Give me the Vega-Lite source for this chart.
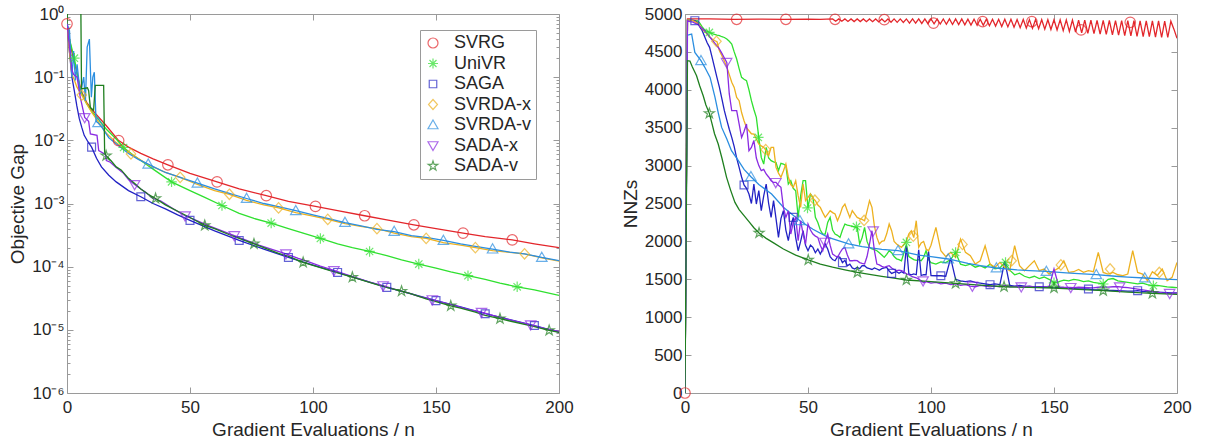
{
 "$schema": "https://vega.github.io/schema/vega-lite/v6.json",
 "padding": {"left": 8, "top": 5, "right": 0, "bottom": 0},
 "background": "white",
 "bounds": "flush",
 "spacing": 126,
 "config": {
  "font": "Liberation Sans",
  "view": {"stroke": null},
  "axis": {"grid": false, "labelFlush": false, "domainColor": "#9a9a9a", "tickColor": "#9a9a9a", "domainWidth": 1, "tickWidth": 1,
   "labelFont": "Liberation Sans", "labelFontSize": 17, "labelColor": "#262626",
   "titleFont": "Liberation Sans", "titleFontSize": 19, "titleFontWeight": "normal", "titleColor": "#262626", "labelPadding": 6}
 },
 "resolve": {"scale": {"x": "independent", "y": "independent", "color": "independent", "stroke": "independent", "shape": "independent"}, "legend": {"color": "independent", "shape": "independent"}},
 "datasets": {
  "left": [
   {"s":"SVRG","x":0,"y":0.7},{"s":"SVRG","x":1,"y":0.4},{"s":"SVRG","x":2,"y":0.25},{"s":"SVRG","x":3,"y":0.17},{"s":"SVRG","x":4,"y":0.12},{"s":"SVRG","x":5,"y":0.08},{"s":"SVRG","x":6,"y":0.058},{"s":"SVRG","x":8,"y":0.04},{"s":"SVRG","x":10,"y":0.031},{"s":"SVRG","x":13,"y":0.023},{"s":"SVRG","x":16,"y":0.017},{"s":"SVRG","x":21,"y":0.0099},{"s":"SVRG","x":25,"y":0.0078},{"s":"SVRG","x":30,"y":0.0062},{"s":"SVRG","x":35,"y":0.0051},{"s":"SVRG","x":41,"y":0.0041},{"s":"SVRG","x":50,"y":0.003},{"s":"SVRG","x":61,"y":0.0022},{"s":"SVRG","x":70,"y":0.0017},{"s":"SVRG","x":81,"y":0.00133},{"s":"SVRG","x":90,"y":0.00108},{"s":"SVRG","x":101,"y":0.0009},{"s":"SVRG","x":110,"y":0.00077},{"s":"SVRG","x":121,"y":0.00064},{"s":"SVRG","x":130,"y":0.00055},{"s":"SVRG","x":141,"y":0.00046},{"s":"SVRG","x":150,"y":0.0004},{"s":"SVRG","x":161,"y":0.00034},{"s":"SVRG","x":170,"y":0.0003},{"s":"SVRG","x":181,"y":0.000265},{"s":"SVRG","x":190,"y":0.00023},{"s":"SVRG","x":200,"y":0.0002},
   {"s":"UniVR","x":0,"y":0.7},{"s":"UniVR","x":1,"y":0.4},{"s":"UniVR","x":2,"y":0.28},{"s":"UniVR","x":3,"y":0.2},{"s":"UniVR","x":4,"y":0.12},{"s":"UniVR","x":5,"y":0.075},{"s":"UniVR","x":6,"y":0.055},{"s":"UniVR","x":8,"y":0.038},{"s":"UniVR","x":10,"y":0.029},{"s":"UniVR","x":13,"y":0.021},{"s":"UniVR","x":16,"y":0.015},{"s":"UniVR","x":20,"y":0.0105},{"s":"UniVR","x":23,"y":0.0077},{"s":"UniVR","x":27,"y":0.0058},{"s":"UniVR","x":30,"y":0.0048},{"s":"UniVR","x":35,"y":0.0035},{"s":"UniVR","x":42.5,"y":0.0022},{"s":"UniVR","x":50,"y":0.0016},{"s":"UniVR","x":56,"y":0.00125},{"s":"UniVR","x":63,"y":0.00093},{"s":"UniVR","x":70,"y":0.0007},{"s":"UniVR","x":76,"y":0.00058},{"s":"UniVR","x":83,"y":0.00049},{"s":"UniVR","x":90,"y":0.0004},{"s":"UniVR","x":96,"y":0.00034},{"s":"UniVR","x":103,"y":0.00028},{"s":"UniVR","x":110,"y":0.00023},{"s":"UniVR","x":116,"y":0.0002},{"s":"UniVR","x":123,"y":0.000174},{"s":"UniVR","x":130,"y":0.00015},{"s":"UniVR","x":136,"y":0.000128},{"s":"UniVR","x":143,"y":0.00011},{"s":"UniVR","x":150,"y":0.000095},{"s":"UniVR","x":156,"y":0.000083},{"s":"UniVR","x":163,"y":0.000072},{"s":"UniVR","x":170,"y":0.000063},{"s":"UniVR","x":176,"y":0.000055},{"s":"UniVR","x":183,"y":0.000048},{"s":"UniVR","x":190,"y":0.000043},{"s":"UniVR","x":200,"y":0.000035},
   {"s":"SAGA","x":0,"y":0.7},{"s":"SAGA","x":1,"y":0.25},{"s":"SAGA","x":2,"y":0.1},{"s":"SAGA","x":3,"y":0.06},{"s":"SAGA","x":4,"y":0.035},{"s":"SAGA","x":5,"y":0.022},{"s":"SAGA","x":6,"y":0.016},{"s":"SAGA","x":7,"y":0.012},{"s":"SAGA","x":8.5,"y":0.0095},{"s":"SAGA","x":10,"y":0.0078},{"s":"SAGA","x":12,"y":0.0052},{"s":"SAGA","x":14,"y":0.0038},{"s":"SAGA","x":17,"y":0.0028},{"s":"SAGA","x":20,"y":0.0022},{"s":"SAGA","x":25,"y":0.0016},{"s":"SAGA","x":30,"y":0.00128},{"s":"SAGA","x":35,"y":0.001},{"s":"SAGA","x":40,"y":0.00082},{"s":"SAGA","x":45,"y":0.00066},{"s":"SAGA","x":50,"y":0.00054},{"s":"SAGA","x":60,"y":0.00037},{"s":"SAGA","x":70,"y":0.00026},{"s":"SAGA","x":80,"y":0.00019},{"s":"SAGA","x":90,"y":0.00014},{"s":"SAGA","x":100,"y":0.000106},{"s":"SAGA","x":110,"y":0.000081},{"s":"SAGA","x":120,"y":0.000062},{"s":"SAGA","x":130,"y":0.000047},{"s":"SAGA","x":140,"y":0.000037},{"s":"SAGA","x":150,"y":0.000029},{"s":"SAGA","x":160,"y":0.000023},{"s":"SAGA","x":170,"y":0.000018},{"s":"SAGA","x":180,"y":0.0000145},{"s":"SAGA","x":190,"y":0.0000117},{"s":"SAGA","x":200,"y":0.0000092},
   {"s":"SVRDA-x","x":0,"y":0.7},{"s":"SVRDA-x","x":1,"y":0.25},{"s":"SVRDA-x","x":2,"y":0.11},{"s":"SVRDA-x","x":3,"y":0.09},{"s":"SVRDA-x","x":4,"y":0.07},{"s":"SVRDA-x","x":6,"y":0.052},{"s":"SVRDA-x","x":8,"y":0.038},{"s":"SVRDA-x","x":10,"y":0.028},{"s":"SVRDA-x","x":13,"y":0.019},{"s":"SVRDA-x","x":16,"y":0.013},{"s":"SVRDA-x","x":20,"y":0.0092},{"s":"SVRDA-x","x":26,"y":0.0061},{"s":"SVRDA-x","x":33,"y":0.0041},{"s":"SVRDA-x","x":40,"y":0.0031},{"s":"SVRDA-x","x":46,"y":0.0026},{"s":"SVRDA-x","x":53,"y":0.002},{"s":"SVRDA-x","x":60,"y":0.0016},{"s":"SVRDA-x","x":66,"y":0.0014},{"s":"SVRDA-x","x":73,"y":0.00112},{"s":"SVRDA-x","x":80,"y":0.00095},{"s":"SVRDA-x","x":86,"y":0.00085},{"s":"SVRDA-x","x":93,"y":0.00072},{"s":"SVRDA-x","x":100,"y":0.00063},{"s":"SVRDA-x","x":106,"y":0.00056},{"s":"SVRDA-x","x":113,"y":0.00048},{"s":"SVRDA-x","x":120,"y":0.00043},{"s":"SVRDA-x","x":126,"y":0.0004},{"s":"SVRDA-x","x":133,"y":0.00034},{"s":"SVRDA-x","x":140,"y":0.0003},{"s":"SVRDA-x","x":146,"y":0.00028},{"s":"SVRDA-x","x":153,"y":0.00024},{"s":"SVRDA-x","x":160,"y":0.00022},{"s":"SVRDA-x","x":166,"y":0.0002},{"s":"SVRDA-x","x":173,"y":0.00018},{"s":"SVRDA-x","x":180,"y":0.000168},{"s":"SVRDA-x","x":186,"y":0.00016},{"s":"SVRDA-x","x":193,"y":0.000138},{"s":"SVRDA-x","x":200,"y":0.000122},
   {"s":"SVRDA-v","x":0,"y":0.7},{"s":"SVRDA-v","x":1,"y":0.55},{"s":"SVRDA-v","x":2,"y":0.1},{"s":"SVRDA-v","x":2.7,"y":0.26},{"s":"SVRDA-v","x":3.4,"y":0.089},{"s":"SVRDA-v","x":4.1,"y":0.16},{"s":"SVRDA-v","x":5.4,"y":0.054},{"s":"SVRDA-v","x":6.8,"y":0.1},{"s":"SVRDA-v","x":7.5,"y":0.042},{"s":"SVRDA-v","x":8.2,"y":0.3},{"s":"SVRDA-v","x":9.1,"y":0.4},{"s":"SVRDA-v","x":9.9,"y":0.048},{"s":"SVRDA-v","x":10.5,"y":0.1},{"s":"SVRDA-v","x":11.1,"y":0.12},{"s":"SVRDA-v","x":11.8,"y":0.02},{"s":"SVRDA-v","x":12.6,"y":0.019},{"s":"SVRDA-v","x":14.2,"y":0.016},{"s":"SVRDA-v","x":17,"y":0.011},{"s":"SVRDA-v","x":20,"y":0.0088},{"s":"SVRDA-v","x":25,"y":0.0062},{"s":"SVRDA-v","x":29,"y":0.005},{"s":"SVRDA-v","x":33,"y":0.0042},{"s":"SVRDA-v","x":40,"y":0.0031},{"s":"SVRDA-v","x":46,"y":0.0026},{"s":"SVRDA-v","x":53,"y":0.0021},{"s":"SVRDA-v","x":60,"y":0.0017},{"s":"SVRDA-v","x":66,"y":0.00145},{"s":"SVRDA-v","x":73,"y":0.0012},{"s":"SVRDA-v","x":80,"y":0.001},{"s":"SVRDA-v","x":86,"y":0.00089},{"s":"SVRDA-v","x":93,"y":0.00077},{"s":"SVRDA-v","x":100,"y":0.00066},{"s":"SVRDA-v","x":106,"y":0.00058},{"s":"SVRDA-v","x":113,"y":0.0005},{"s":"SVRDA-v","x":120,"y":0.00044},{"s":"SVRDA-v","x":126,"y":0.00039},{"s":"SVRDA-v","x":133,"y":0.00036},{"s":"SVRDA-v","x":140,"y":0.00031},{"s":"SVRDA-v","x":146,"y":0.00029},{"s":"SVRDA-v","x":153,"y":0.00026},{"s":"SVRDA-v","x":160,"y":0.00023},{"s":"SVRDA-v","x":166,"y":0.00021},{"s":"SVRDA-v","x":173,"y":0.00019},{"s":"SVRDA-v","x":180,"y":0.00017},{"s":"SVRDA-v","x":186,"y":0.00016},{"s":"SVRDA-v","x":193,"y":0.00014},{"s":"SVRDA-v","x":200,"y":0.000125},
   {"s":"SADA-x","x":0,"y":0.7},{"s":"SADA-x","x":1,"y":0.3},{"s":"SADA-x","x":2,"y":0.13},{"s":"SADA-x","x":2.7,"y":0.11},{"s":"SADA-x","x":4.1,"y":0.1},{"s":"SADA-x","x":5.4,"y":0.048},{"s":"SADA-x","x":7.2,"y":0.023},{"s":"SADA-x","x":8.8,"y":0.02},{"s":"SADA-x","x":9.5,"y":0.0126},{"s":"SADA-x","x":12.2,"y":0.012},{"s":"SADA-x","x":12.9,"y":0.0069},{"s":"SADA-x","x":15.6,"y":0.006},{"s":"SADA-x","x":16,"y":0.0048},{"s":"SADA-x","x":17.6,"y":0.0045},{"s":"SADA-x","x":20,"y":0.0037},{"s":"SADA-x","x":23,"y":0.003},{"s":"SADA-x","x":25,"y":0.0024},{"s":"SADA-x","x":27.5,"y":0.002},{"s":"SADA-x","x":30,"y":0.0017},{"s":"SADA-x","x":32,"y":0.0015},{"s":"SADA-x","x":35,"y":0.0012},{"s":"SADA-x","x":38,"y":0.0011},{"s":"SADA-x","x":43,"y":0.00083},{"s":"SADA-x","x":48,"y":0.00064},{"s":"SADA-x","x":53,"y":0.00053},{"s":"SADA-x","x":58,"y":0.00044},{"s":"SADA-x","x":63,"y":0.00037},{"s":"SADA-x","x":68,"y":0.00031},{"s":"SADA-x","x":73,"y":0.00026},{"s":"SADA-x","x":78,"y":0.00022},{"s":"SADA-x","x":83,"y":0.00019},{"s":"SADA-x","x":89,"y":0.00016},{"s":"SADA-x","x":94,"y":0.000135},{"s":"SADA-x","x":98,"y":0.00012},{"s":"SADA-x","x":103,"y":0.000102},{"s":"SADA-x","x":108.5,"y":0.000087},{"s":"SADA-x","x":113,"y":0.000076},{"s":"SADA-x","x":118,"y":0.000066},{"s":"SADA-x","x":123,"y":0.000057},{"s":"SADA-x","x":128.5,"y":0.00005},{"s":"SADA-x","x":133,"y":0.000044},{"s":"SADA-x","x":138,"y":0.000039},{"s":"SADA-x","x":143,"y":0.000034},{"s":"SADA-x","x":148.5,"y":0.00003},{"s":"SADA-x","x":153,"y":0.000027},{"s":"SADA-x","x":158,"y":0.000024},{"s":"SADA-x","x":163,"y":0.000021},{"s":"SADA-x","x":168.5,"y":0.000019},{"s":"SADA-x","x":173,"y":0.000017},{"s":"SADA-x","x":178,"y":0.000015},{"s":"SADA-x","x":183,"y":0.0000135},{"s":"SADA-x","x":188.5,"y":0.000012},{"s":"SADA-x","x":194,"y":0.0000105},{"s":"SADA-x","x":200,"y":0.0000094},
   {"s":"SADA-v","x":0,"y":0.7},{"s":"SADA-v","x":1,"y":5},{"s":"SADA-v","x":5.5,"y":5},{"s":"SADA-v","x":5.9,"y":0.065},{"s":"SADA-v","x":8.3,"y":0.068},{"s":"SADA-v","x":8.8,"y":0.061},{"s":"SADA-v","x":9.5,"y":0.033},{"s":"SADA-v","x":10.8,"y":0.03},{"s":"SADA-v","x":11.5,"y":0.074},{"s":"SADA-v","x":14.9,"y":0.074},{"s":"SADA-v","x":15.3,"y":0.0065},{"s":"SADA-v","x":15.9,"y":0.0057},{"s":"SADA-v","x":18,"y":0.0047},{"s":"SADA-v","x":20,"y":0.0038},{"s":"SADA-v","x":22,"y":0.0034},{"s":"SADA-v","x":25,"y":0.0025},{"s":"SADA-v","x":28,"y":0.002},{"s":"SADA-v","x":30,"y":0.0017},{"s":"SADA-v","x":33,"y":0.0014},{"s":"SADA-v","x":36,"y":0.0012},{"s":"SADA-v","x":40,"y":0.00095},{"s":"SADA-v","x":46,"y":0.00072},{"s":"SADA-v","x":50,"y":0.0006},{"s":"SADA-v","x":56,"y":0.00045},{"s":"SADA-v","x":60,"y":0.0004},{"s":"SADA-v","x":66,"y":0.00032},{"s":"SADA-v","x":70,"y":0.00028},{"s":"SADA-v","x":76,"y":0.00023},{"s":"SADA-v","x":80,"y":0.0002},{"s":"SADA-v","x":86,"y":0.000163},{"s":"SADA-v","x":90,"y":0.000145},{"s":"SADA-v","x":96,"y":0.000117},{"s":"SADA-v","x":100,"y":0.000105},{"s":"SADA-v","x":106,"y":0.000089},{"s":"SADA-v","x":110,"y":0.00008},{"s":"SADA-v","x":116,"y":0.000068},{"s":"SADA-v","x":120,"y":0.000061},{"s":"SADA-v","x":126,"y":0.000052},{"s":"SADA-v","x":130,"y":0.000047},{"s":"SADA-v","x":136,"y":0.000041},{"s":"SADA-v","x":140,"y":0.000037},{"s":"SADA-v","x":146,"y":0.000031},{"s":"SADA-v","x":150,"y":0.000028},{"s":"SADA-v","x":156,"y":0.000024},{"s":"SADA-v","x":160,"y":0.000022},{"s":"SADA-v","x":166,"y":0.000019},{"s":"SADA-v","x":170,"y":0.000017},{"s":"SADA-v","x":176,"y":0.000015},{"s":"SADA-v","x":180,"y":0.0000138},{"s":"SADA-v","x":186,"y":0.0000122},{"s":"SADA-v","x":190,"y":0.0000112},{"s":"SADA-v","x":196,"y":0.0000098},{"s":"SADA-v","x":200,"y":0.0000091}
  ],
  "leftm": [
   {"s":"SVRG","x":0,"y":0.7},{"s":"SVRG","x":21,"y":0.0099},{"s":"SVRG","x":41,"y":0.0041},{"s":"SVRG","x":61,"y":0.0022},{"s":"SVRG","x":81,"y":0.00133},{"s":"SVRG","x":101,"y":0.0009},{"s":"SVRG","x":121,"y":0.00064},{"s":"SVRG","x":141,"y":0.00046},{"s":"SVRG","x":161,"y":0.00034},{"s":"SVRG","x":181,"y":0.000265},
   {"s":"UniVR","x":3,"y":0.2},{"s":"UniVR","x":23,"y":0.0077},{"s":"UniVR","x":42.5,"y":0.0022},{"s":"UniVR","x":63,"y":0.00093},{"s":"UniVR","x":83,"y":0.00049},{"s":"UniVR","x":103,"y":0.00028},{"s":"UniVR","x":123,"y":0.000174},{"s":"UniVR","x":143,"y":0.00011},{"s":"UniVR","x":163,"y":0.000072},{"s":"UniVR","x":183,"y":0.000048},
   {"s":"SAGA","x":10,"y":0.0078},{"s":"SAGA","x":30,"y":0.00128},{"s":"SAGA","x":50,"y":0.00054},{"s":"SAGA","x":70,"y":0.00026},{"s":"SAGA","x":90,"y":0.00014},{"s":"SAGA","x":110,"y":0.000081},{"s":"SAGA","x":130,"y":0.000047},{"s":"SAGA","x":150,"y":0.000029},{"s":"SAGA","x":170,"y":0.000018},{"s":"SAGA","x":190,"y":0.0000117},
   {"s":"SVRDA-x","x":6,"y":0.052},{"s":"SVRDA-x","x":26,"y":0.0061},{"s":"SVRDA-x","x":46,"y":0.0026},{"s":"SVRDA-x","x":66,"y":0.0014},{"s":"SVRDA-x","x":86,"y":0.00085},{"s":"SVRDA-x","x":106,"y":0.00056},{"s":"SVRDA-x","x":126,"y":0.0004},{"s":"SVRDA-x","x":146,"y":0.00028},{"s":"SVRDA-x","x":166,"y":0.0002},{"s":"SVRDA-x","x":186,"y":0.00016},
   {"s":"SVRDA-v","x":12.6,"y":0.019},{"s":"SVRDA-v","x":33,"y":0.0042},{"s":"SVRDA-v","x":53,"y":0.0021},{"s":"SVRDA-v","x":73,"y":0.0012},{"s":"SVRDA-v","x":93,"y":0.00077},{"s":"SVRDA-v","x":113,"y":0.0005},{"s":"SVRDA-v","x":133,"y":0.00036},{"s":"SVRDA-v","x":153,"y":0.00026},{"s":"SVRDA-v","x":173,"y":0.00019},{"s":"SVRDA-v","x":193,"y":0.00014},
   {"s":"SADA-x","x":7.2,"y":0.023},{"s":"SADA-x","x":27.5,"y":0.002},{"s":"SADA-x","x":48,"y":0.00064},{"s":"SADA-x","x":68,"y":0.00031},{"s":"SADA-x","x":89,"y":0.00016},{"s":"SADA-x","x":108.5,"y":0.000087},{"s":"SADA-x","x":128.5,"y":0.00005},{"s":"SADA-x","x":148.5,"y":0.00003},{"s":"SADA-x","x":168.5,"y":0.000019},{"s":"SADA-x","x":188.5,"y":0.000012},
   {"s":"SADA-v","x":15.9,"y":0.0057},{"s":"SADA-v","x":36,"y":0.0012},{"s":"SADA-v","x":56,"y":0.00045},{"s":"SADA-v","x":76,"y":0.00023},{"s":"SADA-v","x":96,"y":0.000117},{"s":"SADA-v","x":116,"y":0.000068},{"s":"SADA-v","x":136,"y":0.000041},{"s":"SADA-v","x":156,"y":0.000024},{"s":"SADA-v","x":176,"y":0.000015},{"s":"SADA-v","x":196,"y":0.0000098}
  ],
  "right": [
   {"x":0,"SVRG":0,"UniVR":0,"SAGA":0,"SVRDA-x":0,"SVRDA-v":0,"SADA-x":0,"SADA-v":0},
   {"x":1,"UniVR":4920,"SAGA":4920,"SVRDA-x":4920,"SADA-x":4911},
   {"x":2,"UniVR":4920,"SAGA":4920,"SVRDA-x":4920,"SADA-x":4900},
   {"x":3,"UniVR":4915,"SAGA":4920,"SVRDA-x":4915,"SADA-x":4895},
   {"x":4,"UniVR":4910,"SAGA":4912,"SVRDA-x":4900,"SADA-x":4880},
   {"x":5,"UniVR":4911,"SAGA":4889,"SVRDA-x":4880,"SADA-x":4868},
   {"x":6,"UniVR":4880,"SAGA":4830,"SVRDA-x":4850,"SADA-x":4840},
   {"x":7,"UniVR":4830,"SAGA":4780,"SVRDA-x":4800,"SADA-x":4810},
   {"x":8,"UniVR":4790,"SAGA":4700,"SVRDA-x":4770,"SADA-x":4780},
   {"x":9,"UniVR":4770,"SAGA":4620,"SVRDA-x":4736,"SADA-x":4740},
   {"x":10,"UniVR":4757,"SAGA":4560,"SVRDA-x":4700,"SADA-x":4700},
   {"x":11,"UniVR":4740,"SAGA":4430,"SVRDA-x":4670,"SADA-x":4660},
   {"x":12,"UniVR":4730,"SAGA":4296,"SVRDA-x":4650,"SADA-x":4620},
   {"x":13,"UniVR":4720,"SAGA":4160,"SVRDA-x":4634,"SADA-x":4580},
   {"x":14,"UniVR":4714,"SAGA":4032,"SVRDA-x":4516,"SADA-x":4538},
   {"x":15,"UniVR":4700,"SAGA":3880,"SVRDA-x":4450,"SADA-x":4480},
   {"x":16,"UniVR":4690,"SAGA":3724,"SVRDA-x":4380,"SADA-x":4420},
   {"x":17,"UniVR":4670,"SAGA":3600,"SVRDA-x":4300,"SADA-x":4362},
   {"x":18,"UniVR":4640,"SAGA":3480,"SVRDA-x":4200,"SADA-x":3945},
   {"x":19,"UniVR":4604,"SAGA":3372,"SVRDA-x":4100,"SADA-x":3724},
   {"x":20,"UniVR":4500,"SAGA":3250,"SVRDA-x":4032,"SADA-x":3724},
   {"x":21,"UniVR":4406,"SAGA":3100,"SVRDA-x":3900,"SADA-x":3724},
   {"x":22,"UniVR":4280,"SAGA":2976,"SVRDA-x":3856,"SADA-x":3549},
   {"x":23,"UniVR":4164,"SAGA":2850,"SVRDA-x":3700,"SADA-x":3372},
   {"x":24,"UniVR":4140,"SAGA":2744,"SVRDA-x":3592,"SADA-x":3450},
   {"x":25,"UniVR":4120,"SAGA":2700,"SVRDA-x":3500,"SADA-x":3549},
   {"x":26,"UniVR":4000,"SAGA":2625,"SVRDA-x":3460,"SADA-x":3197},
   {"x":27,"UniVR":3856,"SAGA":2500,"SVRDA-x":3420,"SADA-x":3240},
   {"x":28,"UniVR":3740,"SAGA":2757,"SVRDA-x":3417,"SADA-x":3330},
   {"x":29,"UniVR":3636,"SAGA":2493,"SVRDA-x":3350,"SADA-x":3100},
   {"x":30,"UniVR":3372,"SAGA":2669,"SVRDA-x":3285,"SADA-x":3000},
   {"x":31,"UniVR":3108,"SAGA":2405,"SVRDA-x":3260,"SADA-x":2933},
   {"x":32,"UniVR":3020,"SAGA":2600,"SVRDA-x":3240,"SADA-x":2950},
   {"x":33,"UniVR":3240,"SAGA":2757,"SVRDA-x":3197,"SADA-x":2890},
   {"x":34,"UniVR":3100,"SAGA":2500,"SVRDA-x":3131,"SADA-x":2850},
   {"x":35,"UniVR":3065,"SAGA":2317,"SVRDA-x":3240,"SADA-x":2801},
   {"x":36,"UniVR":3050,"SAGA":2537,"SVRDA-x":3240,"SADA-x":2778},
   {"x":37,"UniVR":3040,"SAGA":2300,"SVRDA-x":2976,"SADA-x":2778},
   {"x":38,"UniVR":2933,"SAGA":2053,"SVRDA-x":2900,"SADA-x":2740},
   {"x":39,"UniVR":3030,"SAGA":2300,"SVRDA-x":2845,"SADA-x":2713},
   {"x":40,"UniVR":3021,"SAGA":2405,"SVRDA-x":2930,"SADA-x":2450},
   {"x":41,"UniVR":3000,"SAGA":2150,"SVRDA-x":3021,"SADA-x":2317},
   {"x":42,"UniVR":2757,"SAGA":2009,"SVRDA-x":2850,"SADA-x":2405},
   {"x":43,"UniVR":2801,"SAGA":2200,"SVRDA-x":2750,"SADA-x":2097},
   {"x":44,"UniVR":2700,"SAGA":2317,"SVRDA-x":2713,"SADA-x":2250},
   {"x":45,"UniVR":2669,"SAGA":2050,"SVRDA-x":2801,"SADA-x":2317},
   {"x":46,"UniVR":2317,"SAGA":1877,"SVRDA-x":2600,"SADA-x":2009},
   {"x":47,"UniVR":2600,"SAGA":2000,"SVRDA-x":2449,"SADA-x":2273},
   {"x":48,"UniVR":2801,"SAGA":2141,"SVRDA-x":2757,"SADA-x":2100},
   {"x":49,"UniVR":2801,"SAGA":1950,"SVRDA-x":2537,"SADA-x":1965},
   {"x":50,"UniVR":2441,"SAGA":1877,"SVRDA-x":2580,"SADA-x":2229},
   {"x":51,"UniVR":2625,"SAGA":1950,"SVRDA-x":2625,"SADA-x":2150},
   {"x":52,"UniVR":2581,"SAGA":1921,"SVRDA-x":2570,"SADA-x":2097},
   {"x":53,"UniVR":2317,"SAGA":1850,"SVRDA-x":2537,"SADA-x":2070},
   {"x":54,"UniVR":2250,"SAGA":1900,"SVRDA-x":2480,"SADA-x":2053},
   {"x":55,"UniVR":2150,"SAGA":1833,"SVRDA-x":2449,"SADA-x":1950},
   {"x":56,"UniVR":2097,"SAGA":1900,"SVRDA-x":2380,"SADA-x":1877},
   {"x":57,"UniVR":2097,"SAGA":1965,"SVRDA-x":2317,"SADA-x":2000},
   {"x":58,"UniVR":2250,"SAGA":1900,"SVRDA-x":2360,"SADA-x":2097},
   {"x":59,"UniVR":2317,"SAGA":1800,"SVRDA-x":2405,"SADA-x":1950},
   {"x":60,"UniVR":2150,"SAGA":1760,"SVRDA-x":2380,"SADA-x":1833},
   {"x":61,"UniVR":2097,"SAGA":1745,"SVRDA-x":2361,"SADA-x":1810},
   {"x":62,"UniVR":2080,"SAGA":1800,"SVRDA-x":2273,"SADA-x":1789},
   {"x":63,"UniVR":2053,"SAGA":1789,"SVRDA-x":2350,"SADA-x":1850},
   {"x":64,"UniVR":2150,"SAGA":1720,"SVRDA-x":2449,"SADA-x":1900},
   {"x":65,"UniVR":2229,"SAGA":1750,"SVRDA-x":2493,"SADA-x":1921},
   {"x":66,"UniVR":2215,"SAGA":1679,"SVRDA-x":2400,"SADA-x":1820},
   {"x":67,"UniVR":2207,"SAGA":1700,"SVRDA-x":2317,"SADA-x":1745},
   {"x":68,"UniVR":2200,"SAGA":1650,"SVRDA-x":2405,"SADA-x":1745},
   {"x":69,"UniVR":2190,"SAGA":1636,"SVRDA-x":2360,"SADA-x":1750},
   {"x":70,"UniVR":2185,"SAGA":1660,"SVRDA-x":2317,"SADA-x":1745},
   {"x":71,"UniVR":1965,"SAGA":1640,"SVRDA-x":2300,"SADA-x":1720},
   {"x":72,"UniVR":2050,"SAGA":1680,"SVRDA-x":2290,"SADA-x":1710},
   {"x":73,"UniVR":2185,"SAGA":1679,"SVRDA-x":2273,"SADA-x":1701},
   {"x":74,"UniVR":2000,"SAGA":1650,"SVRDA-x":2400,"SADA-x":1800},
   {"x":75,"UniVR":1921,"SAGA":1640,"SVRDA-x":2537,"SADA-x":1965},
   {"x":76,"UniVR":1900,"SAGA":1630,"SVRDA-x":2449,"SADA-x":2141},
   {"x":77,"UniVR":1890,"SAGA":1650,"SVRDA-x":2200,"SADA-x":1877},
   {"x":78,"UniVR":1877,"SAGA":1636,"SVRDA-x":2053,"SADA-x":1701},
   {"x":79,"UniVR":1850,"SAGA":1620,"SVRDA-x":1965,"SADA-x":1690},
   {"x":80,"UniVR":1820,"SAGA":1640,"SVRDA-x":2000,"SADA-x":1670},
   {"x":81,"UniVR":1789,"SAGA":1650,"SVRDA-x":2009,"SADA-x":1657},
   {"x":82,"UniVR":1830,"SAGA":1657,"SVRDA-x":2100,"SADA-x":1670},
   {"x":83,"UniVR":1877,"SAGA":1610,"SVRDA-x":2229,"SADA-x":1679},
   {"x":84,"UniVR":1850,"SAGA":1578,"SVRDA-x":2141,"SADA-x":1650},
   {"x":85,"UniVR":1800,"SAGA":1591,"SVRDA-x":2000,"SADA-x":1630},
   {"x":86,"UniVR":1770,"SAGA":1600,"SVRDA-x":1965,"SADA-x":1613},
   {"x":87,"UniVR":1760,"SAGA":1580,"SVRDA-x":1943,"SADA-x":1620},
   {"x":88,"UniVR":1745,"SAGA":1600,"SVRDA-x":1921,"SADA-x":1613},
   {"x":89,"UniVR":1850,"SAGA":1580,"SVRDA-x":1965,"SADA-x":1600},
   {"x":90,"UniVR":1960,"SAGA":1940,"SVRDA-x":2000,"SADA-x":1570},
   {"x":91,"UniVR":1800,"SAGA":1570,"SVRDA-x":2100,"SADA-x":1560},
   {"x":92,"UniVR":1780,"SAGA":1560,"SVRDA-x":2141,"SADA-x":1540},
   {"x":93,"UniVR":1760,"SAGA":1570,"SVRDA-x":2050,"SADA-x":1530},
   {"x":94,"UniVR":1750,"SAGA":1560,"SVRDA-x":2273,"SADA-x":1520},
   {"x":95,"UniVR":1760,"SAGA":1890,"SVRDA-x":1921,"SADA-x":1500},
   {"x":96,"UniVR":1745,"SAGA":1550,"SVRDA-x":1980,"SADA-x":1480},
   {"x":97,"UniVR":1790,"SAGA":1560,"SVRDA-x":2000,"SADA-x":1454},
   {"x":98,"UniVR":1877,"SAGA":1560,"SVRDA-x":1900,"SADA-x":1470},
   {"x":99,"UniVR":1760,"SAGA":1870,"SVRDA-x":1877,"SADA-x":1460},
   {"x":100,"UniVR":1720,"SAGA":1550,"SVRDA-x":1950,"SADA-x":1450},
   {"x":102,"UniVR":1700,"SAGA":1547,"SVRDA-x":2185,"SADA-x":1460},
   {"x":104,"UniVR":1730,"SAGA":1547,"SVRDA-x":1877,"SADA-x":1440},
   {"x":106,"UniVR":1720,"SAGA":1540,"SVRDA-x":1800,"SADA-x":1450},
   {"x":108,"UniVR":1760,"SAGA":1780,"SVRDA-x":1855,"SADA-x":1430},
   {"x":110,"UniVR":1855,"SAGA":1500,"SVRDA-x":1789,"SADA-x":1440},
   {"x":112,"UniVR":1700,"SAGA":1480,"SVRDA-x":2031,"SADA-x":1420},
   {"x":114,"UniVR":1680,"SAGA":1470,"SVRDA-x":1855,"SADA-x":1430},
   {"x":116,"UniVR":1700,"SAGA":1480,"SVRDA-x":1811,"SADA-x":1410},
   {"x":118,"UniVR":1660,"SAGA":1460,"SVRDA-x":1701,"SADA-x":1402},
   {"x":120,"UniVR":1680,"SAGA":1450,"SVRDA-x":1745,"SADA-x":1420},
   {"x":122,"UniVR":1650,"SAGA":1440,"SVRDA-x":1943,"SADA-x":1410},
   {"x":124,"UniVR":1700,"SAGA":1430,"SVRDA-x":1701,"SADA-x":1400},
   {"x":126,"UniVR":1640,"SAGA":1440,"SVRDA-x":1657,"SADA-x":1410},
   {"x":128,"UniVR":1650,"SAGA":1430,"SVRDA-x":1723,"SADA-x":1400},
   {"x":130,"UniVR":1723,"SAGA":1740,"SVRDA-x":1657,"SADA-x":1420},
   {"x":132,"UniVR":1620,"SAGA":1420,"SVRDA-x":1613,"SADA-x":1400},
   {"x":134,"UniVR":1560,"SAGA":1410,"SVRDA-x":1943,"SADA-x":1405},
   {"x":136,"UniVR":1580,"SAGA":1420,"SVRDA-x":1679,"SADA-x":1402},
   {"x":138,"UniVR":1540,"SAGA":1410,"SVRDA-x":1613,"SADA-x":1400},
   {"x":140,"UniVR":1520,"SAGA":1405,"SVRDA-x":1680,"SADA-x":1410},
   {"x":142,"UniVR":1540,"SAGA":1400,"SVRDA-x":1745,"SADA-x":1400},
   {"x":144,"UniVR":1510,"SAGA":1402,"SVRDA-x":1613,"SADA-x":1395},
   {"x":146,"UniVR":1530,"SAGA":1400,"SVRDA-x":1635,"SADA-x":1400},
   {"x":148,"UniVR":1500,"SAGA":1395,"SVRDA-x":1569,"SADA-x":1400},
   {"x":150,"UniVR":1455,"SAGA":1390,"SVRDA-x":1613,"SADA-x":1636},
   {"x":152,"UniVR":1470,"SAGA":1390,"SVRDA-x":1650,"SADA-x":1400},
   {"x":154,"UniVR":1490,"SAGA":1385,"SVRDA-x":1745,"SADA-x":1395},
   {"x":156,"UniVR":1480,"SAGA":1380,"SVRDA-x":1591,"SADA-x":1393},
   {"x":158,"UniVR":1500,"SAGA":1378,"SVRDA-x":1600,"SADA-x":1390},
   {"x":160,"UniVR":1490,"SAGA":1375,"SVRDA-x":1630,"SADA-x":1395},
   {"x":162,"UniVR":1470,"SAGA":1372,"SVRDA-x":1591,"SADA-x":1392},
   {"x":164,"UniVR":1480,"SAGA":1372,"SVRDA-x":1613,"SADA-x":1390},
   {"x":166,"UniVR":1460,"SAGA":1365,"SVRDA-x":1600,"SADA-x":1388},
   {"x":168,"UniVR":1450,"SAGA":1360,"SVRDA-x":1855,"SADA-x":1395},
   {"x":170,"UniVR":1440,"SAGA":1358,"SVRDA-x":1591,"SADA-x":1400},
   {"x":172,"UniVR":1500,"SAGA":1355,"SVRDA-x":1569,"SADA-x":1398},
   {"x":174,"UniVR":1510,"SAGA":1352,"SVRDA-x":1591,"SADA-x":1402},
   {"x":176,"UniVR":1480,"SAGA":1350,"SVRDA-x":1560,"SADA-x":1402},
   {"x":178,"UniVR":1470,"SAGA":1348,"SVRDA-x":1548,"SADA-x":1395},
   {"x":180,"UniVR":1460,"SAGA":1345,"SVRDA-x":1570,"SADA-x":1390},
   {"x":182,"UniVR":1450,"SAGA":1345,"SVRDA-x":1877,"SADA-x":1380},
   {"x":184,"UniVR":1440,"SAGA":1350,"SVRDA-x":1591,"SADA-x":1370},
   {"x":186,"UniVR":1450,"SAGA":1340,"SVRDA-x":1569,"SADA-x":1360},
   {"x":188,"UniVR":1430,"SAGA":1335,"SVRDA-x":1481,"SADA-x":1350},
   {"x":190,"UniVR":1415,"SAGA":1333,"SVRDA-x":1600,"SADA-x":1340},
   {"x":192,"UniVR":1420,"SAGA":1330,"SVRDA-x":1550,"SADA-x":1330},
   {"x":194,"UniVR":1410,"SAGA":1328,"SVRDA-x":1635,"SADA-x":1320},
   {"x":196,"UniVR":1400,"SAGA":1325,"SVRDA-x":1481,"SADA-x":1314},
   {"x":198,"UniVR":1395,"SAGA":1322,"SVRDA-x":1525,"SADA-x":1315},
   {"x":200,"UniVR":1390,"SAGA":1320,"SVRDA-x":1723,"SADA-x":1318},
   {"x":1,"SVRG":4935},{"x":10,"SVRG":4935},{"x":20,"SVRG":4930},{"x":30,"SVRG":4933},{"x":40,"SVRG":4928},{"x":50,"SVRG":4932},{"x":55,"SVRG":4930},
   {"x":60,"SVRG":4935},{"x":61.25,"SVRG":4905},{"x":62.5,"SVRG":4935},{"x":63.75,"SVRG":4905},{"x":65,"SVRG":4935},{"x":66.25,"SVRG":4902},{"x":67.5,"SVRG":4935},{"x":68.75,"SVRG":4900},{"x":70,"SVRG":4935},{"x":71.25,"SVRG":4900},{"x":72.5,"SVRG":4935},{"x":73.75,"SVRG":4898},{"x":75,"SVRG":4935},{"x":76.25,"SVRG":4898},{"x":77.5,"SVRG":4935},{"x":78.75,"SVRG":4895},{"x":80,"SVRG":4935},{"x":81.25,"SVRG":4895},{"x":82.5,"SVRG":4935},{"x":83.75,"SVRG":4892},{"x":85,"SVRG":4935},{"x":86.25,"SVRG":4890},{"x":87.5,"SVRG":4935},{"x":88.75,"SVRG":4888},{"x":90,"SVRG":4935},{"x":91.25,"SVRG":4880},{"x":92.5,"SVRG":4935},{"x":93.75,"SVRG":4878},{"x":95,"SVRG":4935},{"x":96.25,"SVRG":4875},{"x":97.5,"SVRG":4935},{"x":98.75,"SVRG":4872},{"x":100,"SVRG":4935},{"x":101.25,"SVRG":4870},{"x":102.5,"SVRG":4935},{"x":103.75,"SVRG":4868},{"x":105,"SVRG":4935},{"x":106.25,"SVRG":4865},{"x":107.5,"SVRG":4935},{"x":108.75,"SVRG":4862},{"x":110,"SVRG":4935},{"x":111.25,"SVRG":4860},{"x":112.5,"SVRG":4935},{"x":113.75,"SVRG":4858},{"x":115,"SVRG":4933},{"x":116.25,"SVRG":4855},{"x":117.5,"SVRG":4933},{"x":118.75,"SVRG":4852},{"x":120,"SVRG":4932},{"x":121.25,"SVRG":4850},{"x":122.5,"SVRG":4932},{"x":123.75,"SVRG":4845},{"x":125,"SVRG":4930},{"x":126.25,"SVRG":4840},{"x":127.5,"SVRG":4930},{"x":128.75,"SVRG":4835},{"x":130,"SVRG":4930},{"x":131.25,"SVRG":4830},{"x":132.5,"SVRG":4930},{"x":133.75,"SVRG":4825},{"x":135,"SVRG":4928},{"x":136.25,"SVRG":4820},{"x":137.5,"SVRG":4928},{"x":138.75,"SVRG":4815},{"x":140,"SVRG":4926},{"x":141.25,"SVRG":4810},{"x":142.5,"SVRG":4926},{"x":143.75,"SVRG":4805},{"x":145,"SVRG":4925},{"x":146.25,"SVRG":4800},{"x":147.5,"SVRG":4925},{"x":148.75,"SVRG":4795},{"x":150,"SVRG":4924},{"x":151.25,"SVRG":4790},{"x":152.5,"SVRG":4923},{"x":153.75,"SVRG":4780},{"x":155,"SVRG":4922},{"x":156.25,"SVRG":4770},{"x":157.5,"SVRG":4921},{"x":158.75,"SVRG":4760},{"x":160,"SVRG":4920},{"x":161.25,"SVRG":4750},{"x":162.5,"SVRG":4919},{"x":163.75,"SVRG":4745},{"x":165,"SVRG":4918},{"x":166.25,"SVRG":4740},{"x":167.5,"SVRG":4917},{"x":168.75,"SVRG":4735},{"x":170,"SVRG":4916},{"x":171.25,"SVRG":4730},{"x":172.5,"SVRG":4915},{"x":173.75,"SVRG":4725},{"x":175,"SVRG":4914},{"x":176.25,"SVRG":4720},{"x":177.5,"SVRG":4913},{"x":178.75,"SVRG":4715},{"x":180,"SVRG":4912},{"x":181.25,"SVRG":4710},{"x":182.5,"SVRG":4911},{"x":183.75,"SVRG":4705},{"x":185,"SVRG":4910},{"x":186.25,"SVRG":4700},{"x":187.5,"SVRG":4910},{"x":188.75,"SVRG":4700},{"x":190,"SVRG":4908},{"x":191.25,"SVRG":4695},{"x":192.5,"SVRG":4908},{"x":193.75,"SVRG":4690},{"x":195,"SVRG":4906},{"x":196.25,"SVRG":4690},{"x":197.5,"SVRG":4905},{"x":198.75,"SVRG":4800},{"x":200,"SVRG":4680},
   {"x":1,"SVRDA-v":4720},{"x":2.7,"SVRDA-v":4736},{"x":4,"SVRDA-v":4493},{"x":6.5,"SVRDA-v":4384},{"x":8,"SVRDA-v":4300},{"x":10.2,"SVRDA-v":4164},{"x":12.2,"SVRDA-v":3900},{"x":13.5,"SVRDA-v":3700},{"x":14.9,"SVRDA-v":3504},{"x":17,"SVRDA-v":3350},{"x":18.9,"SVRDA-v":3197},{"x":21.7,"SVRDA-v":3065},{"x":24,"SVRDA-v":2950},{"x":26.8,"SVRDA-v":2853},{"x":30,"SVRDA-v":2750},{"x":35.2,"SVRDA-v":2625},{"x":40,"SVRDA-v":2450},{"x":46.7,"SVRDA-v":2273},{"x":52,"SVRDA-v":2160},{"x":58.2,"SVRDA-v":2053},{"x":66.5,"SVRDA-v":1966},{"x":72,"SVRDA-v":1930},{"x":80,"SVRDA-v":1895},{"x":86.6,"SVRDA-v":1877},{"x":95,"SVRDA-v":1820},{"x":100,"SVRDA-v":1800},{"x":107,"SVRDA-v":1768},{"x":115,"SVRDA-v":1710},{"x":120,"SVRDA-v":1680},{"x":126.6,"SVRDA-v":1649},{"x":135,"SVRDA-v":1625},{"x":140,"SVRDA-v":1615},{"x":146.9,"SVRDA-v":1604},{"x":155,"SVRDA-v":1585},{"x":160,"SVRDA-v":1575},{"x":167.2,"SVRDA-v":1561},{"x":175,"SVRDA-v":1540},{"x":180,"SVRDA-v":1530},{"x":186.9,"SVRDA-v":1517},{"x":195,"SVRDA-v":1503},{"x":200,"SVRDA-v":1495},
   {"x":1,"SADA-v":4384},{"x":2,"SADA-v":4380},{"x":3,"SADA-v":4300},{"x":4.7,"SADA-v":4186},{"x":6,"SADA-v":4050},{"x":7.4,"SADA-v":3922},{"x":8.5,"SADA-v":3800},{"x":9.9,"SADA-v":3689},{"x":11,"SADA-v":3550},{"x":12,"SADA-v":3420},{"x":13.5,"SADA-v":3285},{"x":15,"SADA-v":3100},{"x":16.9,"SADA-v":2845},{"x":18.5,"SADA-v":2680},{"x":20.3,"SADA-v":2515},{"x":22,"SADA-v":2420},{"x":24,"SADA-v":2340},{"x":26,"SADA-v":2260},{"x":28,"SADA-v":2180},{"x":30.1,"SADA-v":2111},{"x":33,"SADA-v":2040},{"x":36,"SADA-v":1980},{"x":40,"SADA-v":1900},{"x":45,"SADA-v":1820},{"x":50.1,"SADA-v":1755},{"x":55,"SADA-v":1700},{"x":60,"SADA-v":1660},{"x":65,"SADA-v":1625},{"x":70.1,"SADA-v":1591},{"x":75,"SADA-v":1565},{"x":80,"SADA-v":1540},{"x":85,"SADA-v":1515},{"x":90,"SADA-v":1491},{"x":100,"SADA-v":1468},{"x":110,"SADA-v":1446},{"x":120,"SADA-v":1424},{"x":130,"SADA-v":1402},{"x":140,"SADA-v":1393},{"x":150,"SADA-v":1385},{"x":160,"SADA-v":1367},{"x":170,"SADA-v":1350},{"x":180,"SADA-v":1332},{"x":190,"SADA-v":1314},{"x":200,"SADA-v":1300}
  ],
  "rightm": [
   {"s":"SVRG","x":0,"y":0},{"s":"SVRG","x":21,"y":4930},{"s":"SVRG","x":41,"y":4930},{"s":"SVRG","x":61,"y":4930},{"s":"SVRG","x":81,"y":4925},{"s":"SVRG","x":101,"y":4880},{"s":"SVRG","x":121,"y":4900},{"s":"SVRG","x":141,"y":4900},{"s":"SVRG","x":161,"y":4790},{"s":"SVRG","x":181,"y":4890},
   {"s":"UniVR","x":9.9,"y":4757},{"s":"UniVR","x":29.8,"y":3372},{"s":"UniVR","x":49.8,"y":2441},{"s":"UniVR","x":69.7,"y":2194},{"s":"UniVR","x":90,"y":1987},{"s":"UniVR","x":110,"y":1855},{"s":"UniVR","x":130.3,"y":1723},{"s":"UniVR","x":150,"y":1454},{"s":"UniVR","x":170,"y":1438},{"s":"UniVR","x":190.4,"y":1415},
   {"s":"SAGA","x":4,"y":4912},{"s":"SAGA","x":24,"y":2744},{"s":"SAGA","x":44,"y":2317},{"s":"SAGA","x":64,"y":1720},{"s":"SAGA","x":84,"y":1578},{"s":"SAGA","x":104,"y":1547},{"s":"SAGA","x":124,"y":1429},{"s":"SAGA","x":144,"y":1402},{"s":"SAGA","x":164,"y":1372},{"s":"SAGA","x":184,"y":1350},
   {"s":"SVRDA-x","x":12.8,"y":4640},{"s":"SVRDA-x","x":32.8,"y":3210},{"s":"SVRDA-x","x":52.8,"y":2543},{"s":"SVRDA-x","x":72.8,"y":2276},{"s":"SVRDA-x","x":92.8,"y":2070},{"s":"SVRDA-x","x":112.8,"y":1960},{"s":"SVRDA-x","x":132.8,"y":1745},{"s":"SVRDA-x","x":152.8,"y":1690},{"s":"SVRDA-x","x":172.8,"y":1636},{"s":"SVRDA-x","x":192.8,"y":1590},
   {"s":"SVRDA-v","x":6.5,"y":4384},{"s":"SVRDA-v","x":26.8,"y":2853},{"s":"SVRDA-v","x":46.7,"y":2273},{"s":"SVRDA-v","x":66.5,"y":1966},{"s":"SVRDA-v","x":86.6,"y":1877},{"s":"SVRDA-v","x":107,"y":1768},{"s":"SVRDA-v","x":126.6,"y":1649},{"s":"SVRDA-v","x":146.9,"y":1604},{"s":"SVRDA-v","x":167.2,"y":1561},{"s":"SVRDA-v","x":186.9,"y":1517},
   {"s":"SADA-x","x":16.9,"y":4362},{"s":"SADA-x","x":36.9,"y":2778},{"s":"SADA-x","x":56.9,"y":1990},{"s":"SADA-x","x":76.5,"y":2141},{"s":"SADA-x","x":96.8,"y":1480},{"s":"SADA-x","x":116.8,"y":1410},{"s":"SADA-x","x":136.7,"y":1402},{"s":"SADA-x","x":156.8,"y":1393},{"s":"SADA-x","x":176.7,"y":1402},{"s":"SADA-x","x":197,"y":1314},
   {"s":"SADA-v","x":9.9,"y":3689},{"s":"SADA-v","x":30.1,"y":2111},{"s":"SADA-v","x":50.1,"y":1755},{"s":"SADA-v","x":70.1,"y":1591},{"s":"SADA-v","x":90,"y":1491},{"s":"SADA-v","x":110,"y":1446},{"s":"SADA-v","x":129.7,"y":1402},{"s":"SADA-v","x":150,"y":1385},{"s":"SADA-v","x":170,"y":1350},{"s":"SADA-v","x":190,"y":1314}
  ]
 },
 "hconcat": [
  {
   "width": 492, "height": 379,
   "resolve": {"axis": {"x": "independent", "y": "independent"}},
   "layer": [
    {
     "data": {"name": "left"},
     "mark": {"type": "line", "clip": true, "strokeWidth": 1.3},
     "encoding": {
      "x": {"field": "x", "type": "quantitative", "scale": {"domain": [0, 200], "nice": false},
       "axis": {"orient": "bottom", "values": [0, 50, 100, 150, 200], "tickSize": -6, "labelPadding": 12, "title": "Gradient Evaluations / n", "titlePadding": 5}},
      "y": {"field": "y", "type": "quantitative", "scale": {"type": "log", "domain": [0.000001, 1], "nice": false},
       "axis": {"orient": "left", "title": "Objective Gap", "labelOverlap": false, "labelPadding": 9,
        "values": [0.000001,0.000002,0.000003,0.000004,0.000005,0.000006,0.000007,0.000008,0.000009,0.00001,0.00002,0.00003,0.00004,0.00005,0.00006,0.00007,0.00008,0.00009,0.0001,0.0002,0.0003,0.0004,0.0005,0.0006,0.0007,0.0008,0.0009,0.001,0.002,0.003,0.004,0.005,0.006,0.007,0.008,0.009,0.01,0.02,0.03,0.04,0.05,0.06,0.07,0.08,0.09,0.1,0.2,0.3,0.4,0.5,0.6,0.7,0.8,0.9,1],
        "labelExpr": "abs(log(datum.value)/LN10 - round(log(datum.value)/LN10)) < 0.001 ? '10' + ['⁰','⁻¹','⁻²','⁻³','⁻⁴','⁻⁵','⁻⁶'][-round(log(datum.value)/LN10)] : ''",
        "tickSize": {"condition": {"test": "abs(log(datum.value)/LN10 - round(log(datum.value)/LN10)) < 0.001", "value": -6}, "value": -3}}},
      "stroke": {"field": "s", "type": "nominal",
       "scale": {"domain": ["SADA-v","SADA-x","SVRDA-v","SVRDA-x","SAGA","UniVR","SVRG"], "range": ["#1f7f1f","#8a2be2","#2b8ee0","#edb120","#2222c4","#2fe02f","#e3262b"]},
       "legend": null}
     }
    },
    {
     "data": {"name": "leftm"},
     "mark": {"type": "point", "filled": false, "size": 110, "strokeWidth": 1.2},
     "encoding": {
      "x": {"field": "x", "type": "quantitative", "scale": {"domain": [0, 200], "nice": false},
       "axis": {"orient": "top", "values": [0, 50, 100, 150, 200], "tickSize": -6, "labels": false, "title": null}},
      "y": {"field": "y", "type": "quantitative", "scale": {"type": "log", "domain": [0.000001, 1], "nice": false},
       "axis": {"orient": "right", "title": null, "labels": false,
        "values": [0.000001,0.000002,0.000003,0.000004,0.000005,0.000006,0.000007,0.000008,0.000009,0.00001,0.00002,0.00003,0.00004,0.00005,0.00006,0.00007,0.00008,0.00009,0.0001,0.0002,0.0003,0.0004,0.0005,0.0006,0.0007,0.0008,0.0009,0.001,0.002,0.003,0.004,0.005,0.006,0.007,0.008,0.009,0.01,0.02,0.03,0.04,0.05,0.06,0.07,0.08,0.09,0.1,0.2,0.3,0.4,0.5,0.6,0.7,0.8,0.9,1],
        "tickSize": {"condition": {"test": "abs(log(datum.value)/LN10 - round(log(datum.value)/LN10)) < 0.001", "value": -6}, "value": -3}}},
      "color": {"field": "s", "type": "nominal",
       "scale": {"domain": ["SVRG","UniVR","SAGA","SVRDA-x","SVRDA-v","SADA-x","SADA-v"], "range": ["#e3262b","#2fe02f","#2222c4","#edb120","#2b8ee0","#8a2be2","#1f7f1f"]},
       "legend": {"orient": "none", "legendX": 353, "legendY": 16, "title": null, "strokeColor": "#9a9a9a", "fillColor": "white", "padding": 4,
        "labelFont": "Liberation Sans", "labelFontSize": 18, "labelColor": "#262626", "symbolSize": 100, "symbolStrokeWidth": 1.2, "labelOffset": 12, "rowPadding": 2.5}},
      "shape": {"field": "s", "type": "nominal",
       "scale": {"domain": ["SVRG","UniVR","SAGA","SVRDA-x","SVRDA-v","SADA-x","SADA-v"], "range": ["M1,0A1,1,0,1,1,-1,0A1,1,0,1,1,1,0Z","M-1,0H1M0,-1V1M-0.7,-0.7L0.7,0.7M-0.7,0.7L0.7,-0.7","M-0.75,-0.75H0.75V0.75H-0.75Z","M0,-1L0.9,0L0,1L-0.9,0Z","M0,-1L1,0.75H-1Z","M0,1L1,-0.75H-1Z","M0,-1L0.2245,-0.309L0.951,-0.309L0.363,0.118L0.588,0.809L0,0.382L-0.588,0.809L-0.363,0.118L-0.951,-0.309L-0.2245,-0.309Z"]}}
     }
    }
   ]
  },
  {
   "width": 492, "height": 379,
   "resolve": {"axis": {"x": "independent", "y": "independent"}},
   "layer": [
    {
     "data": {"name": "right"},
     "transform": [{"fold": ["SVRG","UniVR","SAGA","SVRDA-x","SVRDA-v","SADA-x","SADA-v"], "as": ["s", "y"]}, {"filter": "isValid(datum.y)"}],
     "mark": {"type": "line", "clip": true, "strokeWidth": 1.3},
     "encoding": {
      "x": {"field": "x", "type": "quantitative", "scale": {"domain": [0, 200], "nice": false},
       "axis": {"orient": "bottom", "values": [0, 50, 100, 150, 200], "tickSize": -6, "labelPadding": 12, "title": "Gradient Evaluations / n", "titlePadding": 5}},
      "y": {"field": "y", "type": "quantitative", "scale": {"domain": [0, 5000], "nice": false},
       "axis": {"orient": "left", "title": "NNZs", "format": "d", "values": [0,500,1000,1500,2000,2500,3000,3500,4000,4500,5000], "tickSize": -6, "labelPadding": 9}},
      "stroke": {"field": "s", "type": "nominal",
       "scale": {"domain": ["SVRG","UniVR","SAGA","SVRDA-x","SVRDA-v","SADA-x","SADA-v"], "range": ["#e3262b","#2fe02f","#2222c4","#edb120","#2b8ee0","#8a2be2","#1f7f1f"]},
       "legend": null}
     }
    },
    {
     "data": {"name": "rightm"},
     "mark": {"type": "point", "filled": false, "size": 110, "strokeWidth": 1.2},
     "encoding": {
      "x": {"field": "x", "type": "quantitative", "scale": {"domain": [0, 200], "nice": false},
       "axis": {"orient": "top", "values": [0, 50, 100, 150, 200], "tickSize": -6, "labels": false, "title": null}},
      "y": {"field": "y", "type": "quantitative", "scale": {"domain": [0, 5000], "nice": false},
       "axis": {"orient": "right", "title": null, "labels": false, "values": [0,500,1000,1500,2000,2500,3000,3500,4000,4500,5000], "tickSize": -6}},
      "color": {"field": "s", "type": "nominal",
       "scale": {"domain": ["SVRG","UniVR","SAGA","SVRDA-x","SVRDA-v","SADA-x","SADA-v"], "range": ["#e3262b","#2fe02f","#2222c4","#edb120","#2b8ee0","#8a2be2","#1f7f1f"]},
       "legend": null},
      "shape": {"field": "s", "type": "nominal",
       "scale": {"domain": ["SVRG","UniVR","SAGA","SVRDA-x","SVRDA-v","SADA-x","SADA-v"], "range": ["M1,0A1,1,0,1,1,-1,0A1,1,0,1,1,1,0Z","M-1,0H1M0,-1V1M-0.7,-0.7L0.7,0.7M-0.7,0.7L0.7,-0.7","M-0.75,-0.75H0.75V0.75H-0.75Z","M0,-1L0.9,0L0,1L-0.9,0Z","M0,-1L1,0.75H-1Z","M0,1L1,-0.75H-1Z","M0,-1L0.2245,-0.309L0.951,-0.309L0.363,0.118L0.588,0.809L0,0.382L-0.588,0.809L-0.363,0.118L-0.951,-0.309L-0.2245,-0.309Z"]},
       "legend": null}
     }
    }
   ]
  }
 ]
}
